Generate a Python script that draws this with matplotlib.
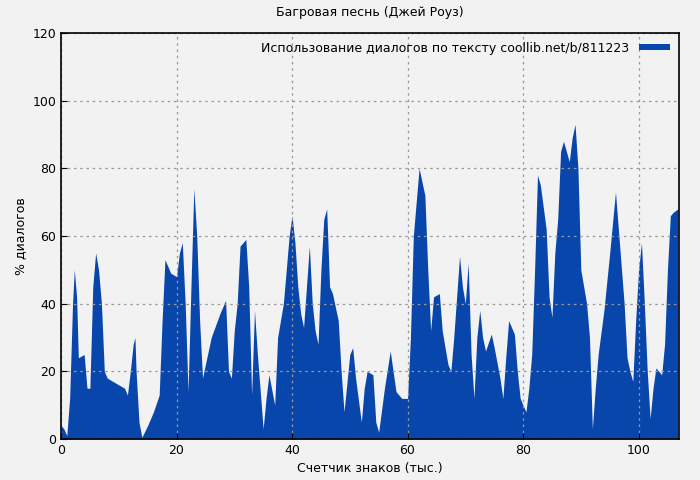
import matplotlib
matplotlib.use("Agg")
import matplotlib.pyplot as plt
import numpy as np

# chars (thousands) and dialogue share (%)
chars = [0, 0.5, 1, 1.5, 2, 2.3, 2.7, 3, 4, 4.5, 5, 5.5, 6, 6.5, 7, 7.5, 8, 9, 10, 11,
         11.5, 12, 12.5, 12.8, 13, 13.5, 14, 15, 16, 17, 17.5, 18, 19, 20, 20.5, 21, 21.5,
         22, 22.5, 23, 23.5, 24, 24.5, 25, 26, 27.5, 28.5, 29, 29.5, 30, 30.5, 31, 32, 32.5,
         33, 33.5, 34, 35, 35.5, 36, 37, 37.5, 38.5, 39.5, 40, 40.5, 41, 41.5, 42, 42.5, 43,
         43.5, 44, 44.5, 45, 45.5, 46, 46.5, 47, 48, 48.5, 49, 50, 50.5, 51, 52, 52.5, 53, 54,
         54.5, 55, 56, 57, 57.5, 58, 59, 60, 60.5, 61, 62, 63, 63.5, 64, 64.5, 65.5, 66, 67,
         67.5, 68, 69, 69.5, 70, 70.5, 71, 71.5, 72, 72.5, 73, 73.5, 74.5, 75, 76, 76.5, 77,
         77.5, 78.5, 79, 79.5, 80, 80.5, 81, 81.5, 82, 82.5, 83, 84, 84.5, 85, 85.5, 86, 86.5,
         87, 88, 88.5, 89, 89.5, 90, 91, 91.5, 92, 92.5, 93, 94, 95, 96, 96.5, 97.5, 98, 98.5,
         99, 99.5, 100, 100.5, 101, 101.5, 102, 102.5, 103, 104, 104.5, 105, 105.5, 106, 106.8]
dialog = [4, 3, 1, 12, 40, 50, 42, 24, 25, 15, 15, 45, 55, 50, 40, 20, 18, 17, 16, 15,
          13, 20, 28, 30, 20, 5, 0.5, 4, 8, 13, 35, 53, 49, 48, 55, 58, 40,
          14, 45, 74, 60, 35, 18, 22, 30, 37, 41, 20, 18, 32, 40, 57, 59, 45,
          13, 38, 25, 3, 12, 19, 10, 30, 40, 60, 66, 58, 45, 37, 33, 45, 57,
          40, 32, 28, 50, 65, 68, 45, 43, 35, 20, 8, 25, 27, 18, 5, 15, 20, 19,
          5, 2, 15, 26, 20, 14, 12, 12, 30, 60, 80, 72, 50, 32, 42, 43, 32, 22,
          20, 30, 54, 45, 40, 52, 25, 12, 30, 38, 30, 26, 31, 27, 18, 12, 24,
          35, 31, 20, 12, 10, 8, 15, 25, 50, 78, 75, 62, 42, 36, 55, 65, 85,
          88, 82, 89, 93, 80, 50, 40, 30, 3, 15, 25, 38, 55, 73, 62, 40, 24, 20,
          17, 35, 50, 58, 40, 20, 6, 15, 21, 19, 28, 50, 66, 67, 68]

bg = "#f2f2f2"
fig = plt.figure(figsize=(7, 4.8), dpi=100, facecolor=bg)
ax = fig.add_axes([61 / 700, 41 / 480, 618 / 700, 406 / 480], facecolor=bg)
ax.fill_between(chars, dialog, 0, color="#0846ab", linewidth=0,
                label="Использование диалогов по тексту coollib.net/b/811223")
ax.set_xlim(0, 107)
ax.set_ylim(0, 120)
ax.set_xticks(np.arange(0, 101, 20))
ax.set_yticks(np.arange(0, 121, 20))
ax.grid(True, color="#999999", linestyle=(0, (2, 3)), linewidth=0.9)
ax.tick_params(labelsize=9, direction="in", length=4)
for s in ax.spines.values():
    s.set_linewidth(1.2)
ax.set_xlabel("Счетчик знаков (тыс.)", fontsize=9)
ax.set_ylabel("% диалогов", fontsize=9)
ax.set_title("Багровая песнь (Джей Роуз)", fontsize=9, pad=12)
ax.legend(loc="upper right", frameon=False, fontsize=9, handlelength=2.5,
          handleheight=0.4, borderaxespad=0.3, markerfirst=False)
fig.savefig("out.png", dpi=100, facecolor=bg)
